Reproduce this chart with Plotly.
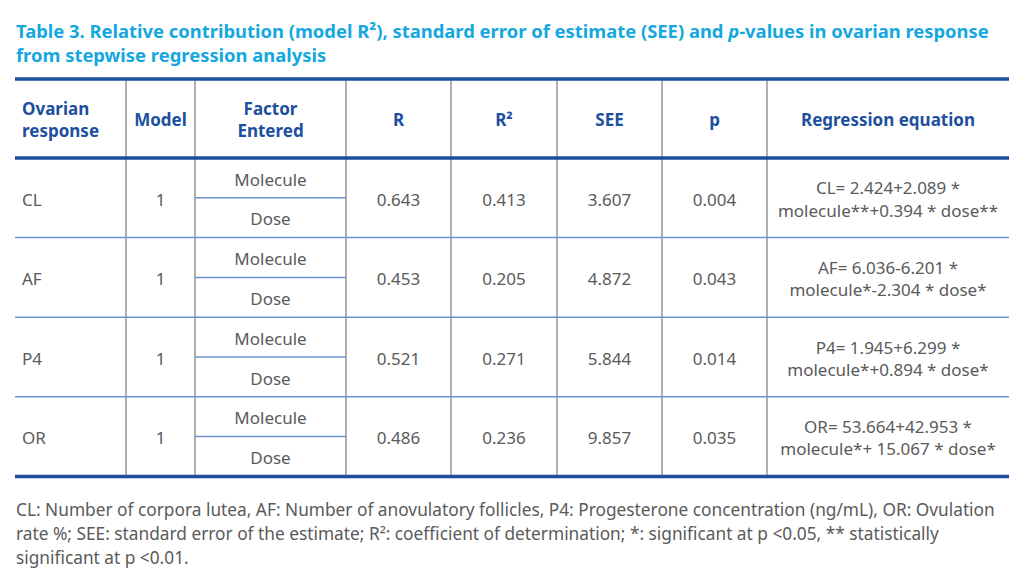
import plotly.graph_objects as go

# table content
responses = ["CL", "AF", "P4", "OR"]
models = [1, 1, 1, 1]
factors = ["Molecule", "Dose"]
r_vals = [0.643, 0.453, 0.521, 0.486]
r2_vals = [0.413, 0.205, 0.271, 0.236]
see_vals = [3.607, 4.872, 5.844, 9.857]
p_vals = [0.004, 0.043, 0.014, 0.035]
equations = [
    "CL= 2.424+2.089 *<br>molecule**+0.394 * dose**",
    "AF= 6.036-6.201 *<br>molecule*-2.304 * dose*",
    "P4= 1.945+6.299 *<br>molecule*+0.894 * dose*",
    "OR= 53.664+42.953 *<br>molecule*+ 15.067 * dose*",
]
headers = ["Ovarian<br>response", "Model", "Factor<br>Entered", "R", "R²", "SEE", "p",
           "Regression equation"]

title_lines = [
    "<b>Table 3. Relative contribution (model R²), standard error of estimate (SEE) and "
    "<i>p</i>-values in ovarian response</b>",
    "<b>from stepwise regression analysis</b>",
]
footnote_lines = [
    "CL: Number of corpora lutea, AF: Number of anovulatory follicles, P4: Progesterone "
    "concentration (ng/mL), OR: Ovulation",
    "rate %; SEE: standard error of the estimate; R²: coefficient of determination; "
    "*: significant at p &lt;0.05, ** statistically",
    "significant at p &lt;0.01.",
]

# page geometry: the page body has an 8px margin, so the figure is 16px smaller
# and the axes are set up in window pixel units
W, H = 1024, 583
PAD = 8
col_edges = [15, 126, 195, 346, 451, 557, 662, 767, 1009]
table_top = 79
header_h = 79
row_h = 79.6
title_y = [30, 54]
foot_y = [509, 533, 557]
TXT_DY = 3.5  # scatter text sits a bit high in its cell

TITLE_C = "#14a7e0"
HEAD_C = "#1d4f9f"
TEXT_C = "#5a5a5a"
RULE_C = "#6b93cc"
VLINE_C = "#7a7a7a"
FONT = "Noto Sans"

header_bottom = table_top + header_h
row_edges = [header_bottom + i * row_h for i in range(len(responses) + 1)]
centers = [(a + b) / 2 for a, b in zip(col_edges[:-1], col_edges[1:])]

fig = go.Figure()

head_font = dict(family=FONT, size=17, color=HEAD_C, weight="bold")
body_font = dict(family=FONT, size=17, color=TEXT_C)

# header text
head_mid = (table_top + header_bottom) / 2 + TXT_DY
fig.add_trace(go.Scatter(
    x=[col_edges[0] + 7], y=[head_mid], mode="text", text=[headers[0]],
    textposition="middle right", textfont=head_font))
fig.add_trace(go.Scatter(
    x=centers[1:], y=[head_mid] * (len(headers) - 1), mode="text", text=headers[1:],
    textposition="middle center", textfont=head_font))

# body
row_mid = [(a + b) / 2 + TXT_DY for a, b in zip(row_edges[:-1], row_edges[1:])]
fig.add_trace(go.Scatter(
    x=[col_edges[0] + 7] * len(responses), y=row_mid, mode="text", text=responses,
    textposition="middle right", textfont=body_font))
columns = [
    [str(m) for m in models],
    [f"{v:.3f}" for v in r_vals],
    [f"{v:.3f}" for v in r2_vals],
    [f"{v:.3f}" for v in see_vals],
    [f"{v:.3f}" for v in p_vals],
    equations,
]
for ci, vals in zip([1, 3, 4, 5, 6, 7], columns):
    fig.add_trace(go.Scatter(
        x=[centers[ci]] * len(vals), y=row_mid, mode="text", text=vals,
        textposition="middle center", textfont=body_font))

# factor sub-rows
fx, fy, ft = [], [], []
for top, bot in zip(row_edges[:-1], row_edges[1:]):
    half = (bot - top) / 2
    for k, f in enumerate(factors):
        fx.append(centers[2])
        fy.append(top + half * k + half / 2 + TXT_DY)
        ft.append(f)
fig.add_trace(go.Scatter(x=fx, y=fy, mode="text", text=ft, textposition="middle center",
                         textfont=body_font))

# rules
shapes = []
for xv in col_edges[1:-1]:
    shapes.append(dict(type="line", xref="x", yref="y", x0=xv, x1=xv, y0=table_top,
                       y1=row_edges[-1], line=dict(color=VLINE_C, width=1.2)))
for yv in row_edges[1:-1]:
    shapes.append(dict(type="line", xref="x", yref="y", x0=col_edges[0], x1=col_edges[-1],
                       y0=yv, y1=yv, line=dict(color=RULE_C, width=1.5)))
for top, bot in zip(row_edges[:-1], row_edges[1:]):
    ym = (top + bot) / 2
    shapes.append(dict(type="line", xref="x", yref="y", x0=col_edges[2], x1=col_edges[3],
                       y0=ym, y1=ym, line=dict(color=RULE_C, width=1.5)))
for yv in [table_top, header_bottom, row_edges[-1]]:
    shapes.append(dict(type="line", xref="x", yref="y", x0=col_edges[0], x1=col_edges[-1],
                       y0=yv, y1=yv, line=dict(color=HEAD_C, width=3.5)))

annotations = []
for txt, yv in zip(title_lines, title_y):
    annotations.append(dict(text=txt, xref="x", yref="y", x=col_edges[0] - 1, y=yv,
                            xanchor="left", yanchor="middle", showarrow=False,
                            font=dict(family=FONT, size=18.4, color=TITLE_C)))
for txt, yv in zip(footnote_lines, foot_y):
    annotations.append(dict(text=txt, xref="x", yref="y", x=col_edges[0] - 1, y=yv,
                            xanchor="left", yanchor="middle", showarrow=False,
                            font=dict(family=FONT, size=17.3, color=TEXT_C)))

fig.update_layout(
    width=W - 2 * PAD, height=H - 2 * PAD,
    margin=dict(l=0, r=0, t=0, b=0),
    paper_bgcolor="white", plot_bgcolor="white",
    showlegend=False,
    shapes=shapes,
    annotations=annotations,
    xaxis=dict(range=[PAD, W - PAD], visible=False, fixedrange=True),
    yaxis=dict(range=[H - PAD, PAD], visible=False, fixedrange=True),
)

fig.write_html("out.html")
